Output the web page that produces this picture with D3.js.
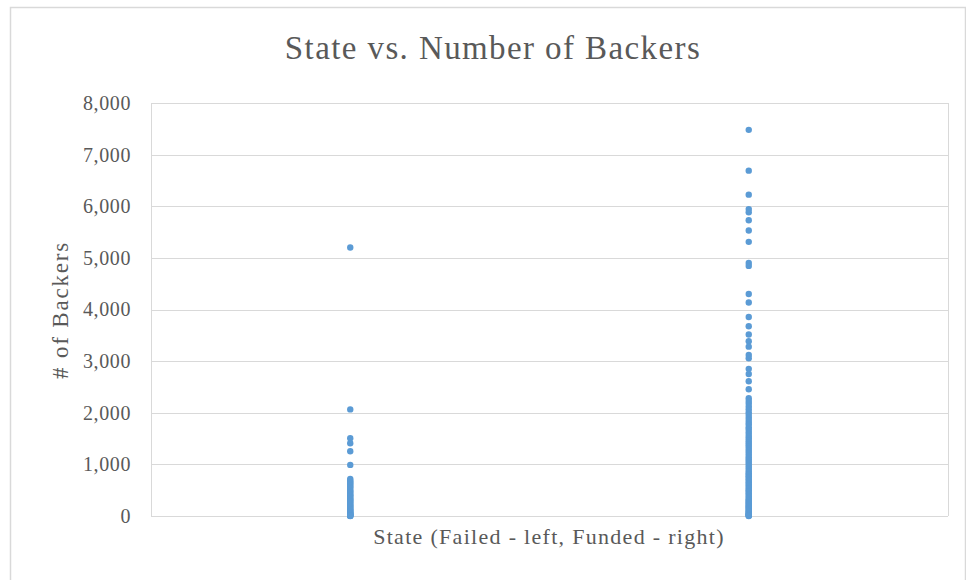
<!DOCTYPE html>
<html lang="en">
<head>
    <meta charset="UTF-8">
    <title>State vs. Number of Backers</title>
    <style>
        body { margin: 0; background: #fff; }
        .grid line { stroke: #d9d9d9; stroke-width: 1px; }
        .dot { fill: #5b9bd5; }
    </style>
</head>
<body>
    <svg id="chart" width="966" height="580"></svg>
    <script src="https://d3js.org/d3.v7.min.js"></script>
    <script>
        // x positions of the two states on a 0..2 axis
        const states = ["Failed", "Funded"];
        const statePos = [0.5, 1.5];

        const yTicks = [0, 1000, 2000, 3000, 4000, 5000, 6000, 7000, 8000];

        // backers
        const failedBackers = [
            5200, 2065, 1505, 1410, 1255, 990,
            720, 690, 660, 640, 610, 580, 560, 530, 500, 470, 450, 420, 400,
            380, 350, 330, 310, 290, 270, 250, 230, 210, 190, 170, 150, 130,
            115, 100, 85, 70, 60, 50, 40, 30, 20, 12, 6, 2, 0
        ];
        const fundedBackers = [
            7480, 6690, 6225, 5945, 5885, 5730, 5530, 5310, 4900, 4845,
            4300, 4135, 3855, 3675, 3515, 3385, 3280, 3120, 3055, 2850,
            2750, 2610, 2455, 2280, 2230, 2180, 2120, 2070, 2010, 1960,
            1910, 1860, 1810, 1770, 1720, 1680, 1630, 1590, 1540, 1500,
            1460, 1420, 1380, 1340, 1300, 1260, 1220, 1180, 1140, 1100,
            1060, 1020, 980, 940, 900, 860, 830, 800, 770, 740, 710, 680,
            650, 620, 590, 560, 530, 500, 470, 440, 410, 380, 350, 320,
            300, 280, 260, 240, 220, 200, 180, 160, 140, 120, 100, 85, 70,
            55, 40, 30, 20, 10, 5, 0
        ];

        const points = [];
        failedBackers.forEach(v => points.push({ x: statePos[0], y: v }));
        fundedBackers.forEach(v => points.push({ x: statePos[1], y: v }));

        const serif = "'Liberation Serif', 'DejaVu Serif', serif";
        const textColor = "#595959";

        const svg = d3.select("#chart");
        const margin = { left: 151, right: 18, top: 103, bottom: 64 };
        const width = 966, height = 580;

        const x = d3.scaleLinear().domain([0, 2]).range([margin.left, width - margin.right]);
        const y = d3.scaleLinear().domain([0, 8000]).range([height - margin.bottom, margin.top]);

        // chart border (bottom runs off the picture)
        svg.append("rect")
            .attr("x", 10.5).attr("y", 7.5)
            .attr("width", 955).attr("height", 590)
            .attr("fill", "none").attr("stroke", "#d9d9d9").attr("stroke-width", 1.5);

        // title
        svg.append("text")
            .attr("x", 493).attr("y", 59)
            .attr("text-anchor", "middle")
            .style("font-family", serif)
            .style("fill", textColor)
            .style("font-size", "33px")
            .style("letter-spacing", "1.4px")
            .text("State vs. Number of Backers");

        // gridlines
        svg.append("g").attr("class", "grid")
            .selectAll("line")
            .data(yTicks)
            .enter().append("line")
            .attr("x1", x.range()[0]).attr("x2", x.range()[1])
            .attr("y1", d => Math.round(y(d)) + 0.5)
            .attr("y2", d => Math.round(y(d)) + 0.5);

        // plot area border (left / right edges)
        svg.append("g").attr("class", "grid")
            .selectAll("line")
            .data(x.range())
            .enter().append("line")
            .attr("x1", d => Math.round(d) + 0.5).attr("x2", d => Math.round(d) + 0.5)
            .attr("y1", y.range()[1]).attr("y2", y.range()[0]);

        // y axis labels
        const yAxis = d3.axisLeft(y)
            .tickValues(yTicks)
            .tickFormat(d3.format(","))
            .tickSize(0)
            .tickPadding(20);
        const gy = svg.append("g")
            .attr("transform", `translate(${margin.left},0)`)
            .call(yAxis);
        gy.select(".domain").remove();
        gy.selectAll("text")
            .attr("font-family", null)
            .style("font-size", "20px")
            .style("letter-spacing", "0.6px")
            .style("fill", textColor)
            .style("font-family", serif);

        // axis titles
        svg.append("text")
            .attr("transform", "translate(68,310) rotate(-90)")
            .attr("text-anchor", "middle")
            .style("font-family", serif)
            .style("fill", textColor)
            .style("font-size", "23px")
            .style("letter-spacing", "1.8px")
            .text("# of Backers");

        svg.append("text")
            .attr("x", 549).attr("y", 544)
            .attr("text-anchor", "middle")
            .style("font-family", serif)
            .style("fill", textColor)
            .style("font-size", "22px")
            .style("letter-spacing", "1.3px")
            .text("State (Failed - left, Funded - right)");

        // points
        svg.append("g")
            .selectAll("circle")
            .data(points)
            .enter().append("circle")
            .attr("class", "dot")
            .attr("cx", d => x(d.x))
            .attr("cy", d => y(d.y))
            .attr("r", 3.2);
    </script>
</body>
</html>
